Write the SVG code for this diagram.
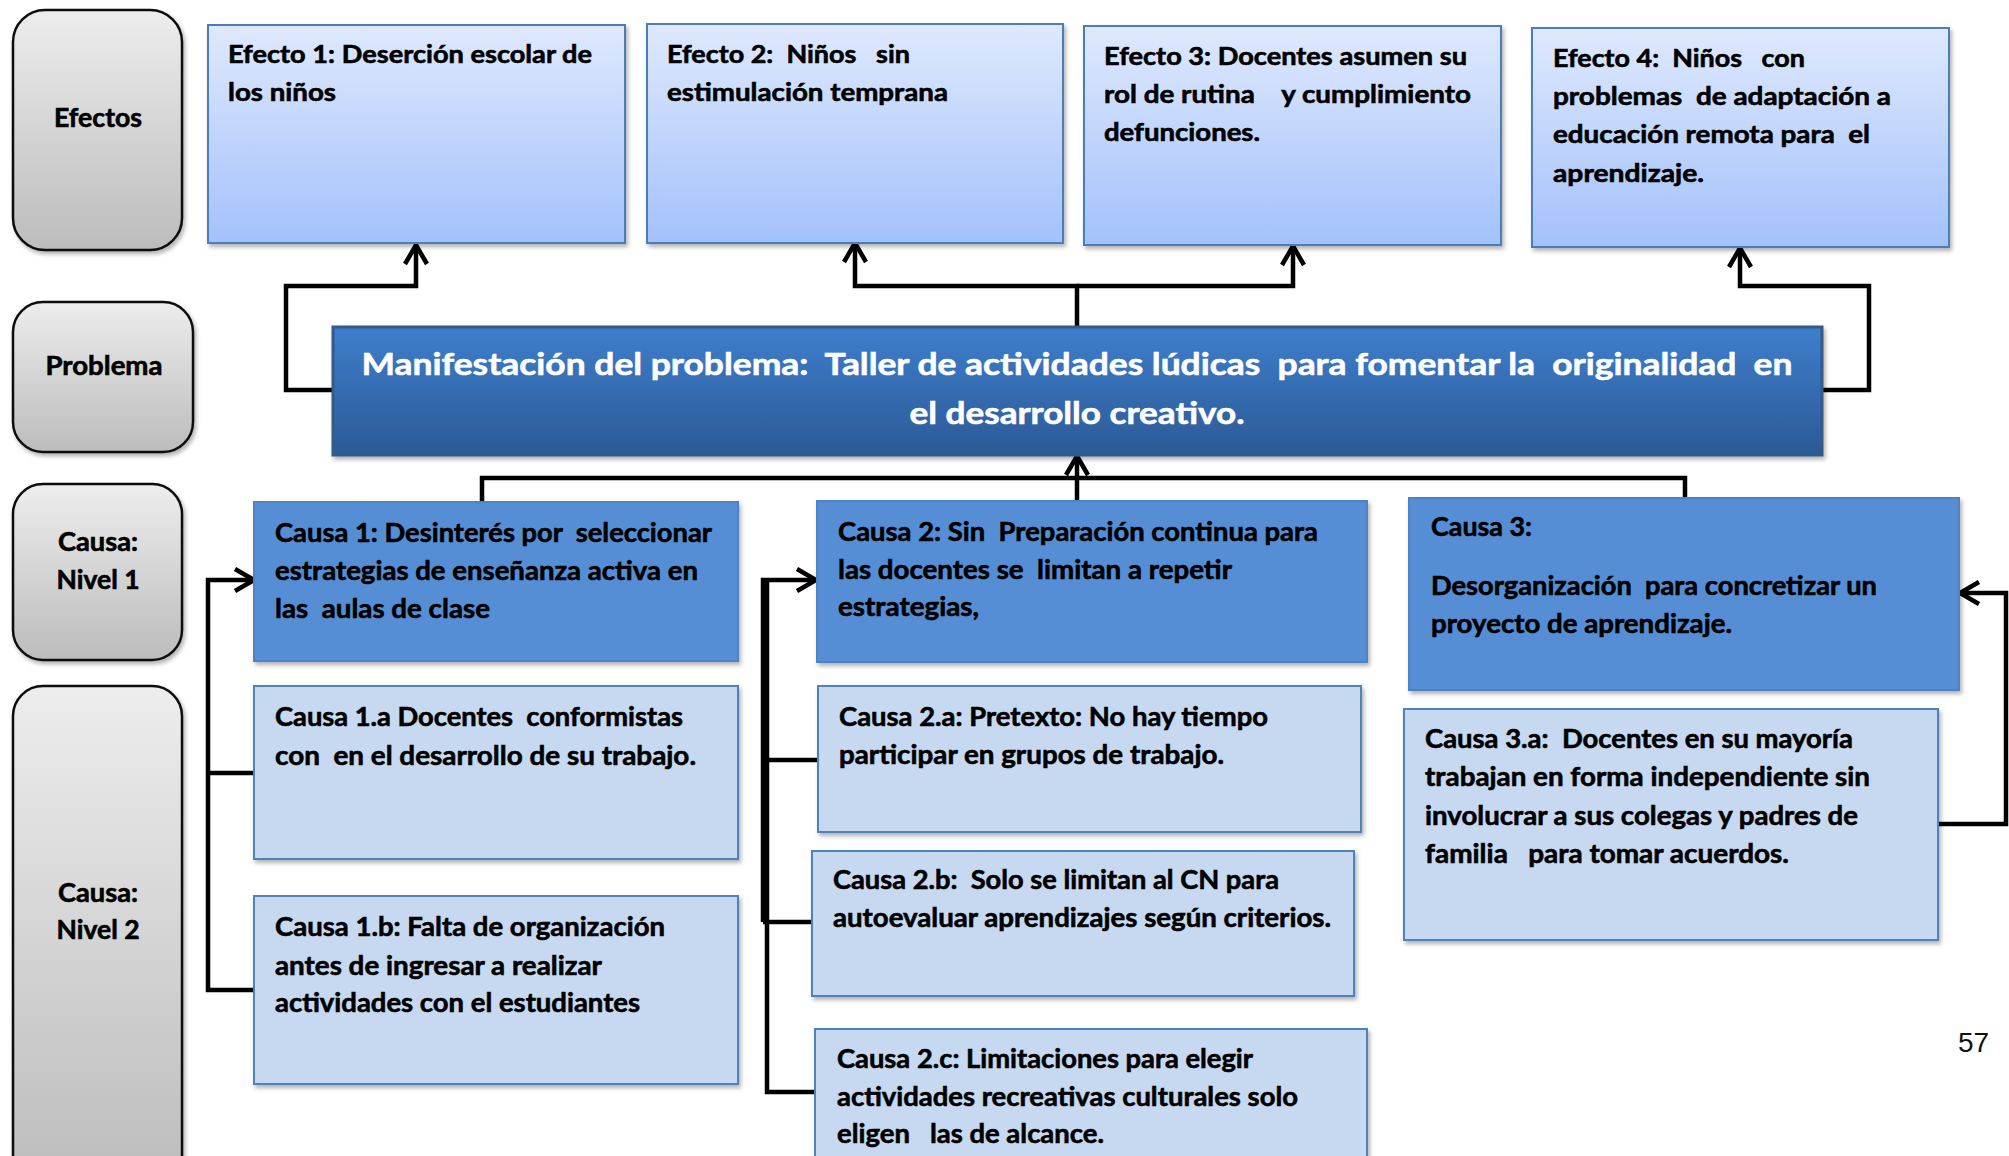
<svg xmlns="http://www.w3.org/2000/svg" width="2009" height="1156" viewBox="0 0 2009 1156">
<style>
text{font-family:Lato,"Open Sans","Liberation Sans",sans-serif;font-weight:bold;fill:#000;stroke:#000;stroke-width:0.6;}
.eff{font-size:25px;}
.cau{font-size:27px;}
.lab{font-size:26px;text-anchor:middle;}
.prob{font-size:31px;fill:#fff;stroke:#fff;stroke-width:0.6;text-anchor:middle;}
.num{font-family:"Liberation Sans",Arial,sans-serif;font-weight:normal;font-size:28px;fill:#111;stroke:none;}
.gray{fill:url(#grayGrad);stroke:#111;stroke-width:2.5;filter:url(#sh);}
.effbox{fill:url(#effGrad);stroke:#4a7ebb;stroke-width:2;filter:url(#sh);}
.probbox{fill:url(#probGrad);stroke:#355a88;stroke-width:3;filter:url(#sh);}
.c1{fill:#558ed5;stroke:#4f81c6;stroke-width:2;filter:url(#sh);}
.c2{fill:#c6d9f1;stroke:#4f81bd;stroke-width:2;filter:url(#sh);}
.con{fill:none;stroke:#000;stroke-width:4.5;stroke-linejoin:miter;}
</style>
<defs>
<linearGradient id="grayGrad" x1="0" y1="0" x2="0" y2="1"><stop offset="0" stop-color="#ededed"/><stop offset="1" stop-color="#bcbcbc"/></linearGradient>
<linearGradient id="effGrad" x1="0" y1="0" x2="0" y2="1"><stop offset="0" stop-color="#dfe9fd"/><stop offset="1" stop-color="#a3c1fb"/></linearGradient>
<linearGradient id="probGrad" x1="0" y1="0" x2="0" y2="1"><stop offset="0" stop-color="#3e7ecc"/><stop offset="1" stop-color="#2c5a96"/></linearGradient>
<filter id="sh" x="-5%" y="-5%" width="115%" height="120%"><feDropShadow dx="2" dy="3" stdDeviation="2" flood-color="#000" flood-opacity="0.3"/></filter>
<marker id="arr" markerUnits="userSpaceOnUse" markerWidth="40" markerHeight="40" viewBox="-30 -20 40 40" refX="-2" refY="0" orient="auto">
<path d="M-20,-11 L-1,0 L-20,11" fill="none" stroke="#000" stroke-width="4.5" stroke-linejoin="miter"/>
</marker>
</defs>
<rect width="2009" height="1156" fill="#fff"/>

<g id="label-efectos"><rect class="gray" x="13" y="10" width="169" height="240" rx="32"/><text class="lab" x="98" y="127" textLength="88" lengthAdjust="spacingAndGlyphs">Efectos</text></g>
<g id="label-problema"><rect class="gray" x="13" y="302" width="180" height="150" rx="30"/><text class="lab" x="104" y="375" textLength="117" lengthAdjust="spacingAndGlyphs">Problema</text></g>
<g id="label-nivel1"><rect class="gray" x="13" y="484" width="169" height="176" rx="30"/><text class="lab" x="98" y="551" textLength="80" lengthAdjust="spacingAndGlyphs">Causa:</text><text class="lab" x="98" y="589" textLength="83" lengthAdjust="spacingAndGlyphs">Nivel 1</text></g>
<g id="label-nivel2"><rect class="gray" x="13" y="686" width="169" height="500" rx="30"/><text class="lab" x="98" y="902" textLength="80" lengthAdjust="spacingAndGlyphs">Causa:</text><text class="lab" x="98" y="939" textLength="83" lengthAdjust="spacingAndGlyphs">Nivel 2</text></g>

<g id="connectors">
<path class="con" d="M333,390 H286 V286 H416 V246" marker-end="url(#arr)"/>
<path class="con" d="M1077,326 V286 H855 V244" marker-end="url(#arr)"/>
<path class="con" d="M1077,286 H1293 V247" marker-end="url(#arr)"/>
<path class="con" d="M1822,390 H1869 V286 H1740 V249" marker-end="url(#arr)"/>
<path class="con" d="M482,502 V478 H1685 V498"/>
<path class="con" d="M1077,501 V457" marker-end="url(#arr)"/>
<path class="con" d="M254,990 H208 V580 H253" marker-end="url(#arr)"/>
<path class="con" d="M208,773 H254"/>
<path class="con" d="M817,1092 H767 V580"/>
<path class="con" d="M763,922 V580 H815" marker-end="url(#arr)"/>
<path class="con" d="M763,760 H818"/>
<path class="con" d="M763,922 H812"/>
<path class="con" d="M1939,824 H2006 V593 H1961" marker-end="url(#arr)"/>
</g>

<g id="efecto1"><rect class="effbox" x="208" y="25" width="417" height="218"/>
<text class="eff" xml:space="preserve" x="228" y="63" textLength="364" lengthAdjust="spacingAndGlyphs">Efecto 1: Deserción escolar de</text>
<text class="eff" xml:space="preserve" x="228" y="101" textLength="108" lengthAdjust="spacingAndGlyphs">los niños</text></g>
<g id="efecto2"><rect class="effbox" x="647" y="24" width="416" height="219"/>
<text class="eff" xml:space="preserve" x="667" y="63" textLength="243" lengthAdjust="spacingAndGlyphs">Efecto 2:  Niños   sin</text>
<text class="eff" xml:space="preserve" x="667" y="101" textLength="281" lengthAdjust="spacingAndGlyphs">estimulación temprana</text></g>
<g id="efecto3"><rect class="effbox" x="1084" y="26" width="417" height="219"/>
<text class="eff" xml:space="preserve" x="1104" y="65" textLength="363" lengthAdjust="spacingAndGlyphs">Efecto 3: Docentes asumen su</text>
<text class="eff" xml:space="preserve" x="1104" y="103" textLength="367" lengthAdjust="spacingAndGlyphs">rol de rutina    y cumplimiento</text>
<text class="eff" xml:space="preserve" x="1104" y="141" textLength="156" lengthAdjust="spacingAndGlyphs">defunciones.</text></g>
<g id="efecto4"><rect class="effbox" x="1532" y="28" width="417" height="219"/>
<text class="eff" xml:space="preserve" x="1553" y="67" textLength="252" lengthAdjust="spacingAndGlyphs">Efecto 4:  Niños   con</text>
<text class="eff" xml:space="preserve" x="1553" y="105" textLength="338" lengthAdjust="spacingAndGlyphs">problemas  de adaptación a</text>
<text class="eff" xml:space="preserve" x="1553" y="143" textLength="317" lengthAdjust="spacingAndGlyphs">educación remota para  el</text>
<text class="eff" xml:space="preserve" x="1553" y="182" textLength="151" lengthAdjust="spacingAndGlyphs">aprendizaje.</text></g>

<g id="problema"><rect class="probbox" x="333" y="327" width="1489" height="128"/>
<text class="prob" xml:space="preserve" x="1077" y="375" textLength="1431" lengthAdjust="spacingAndGlyphs">Manifestación del problema:  Taller de actividades lúdicas  para fomentar la  originalidad  en</text>
<text class="prob" xml:space="preserve" x="1077" y="424" textLength="335" lengthAdjust="spacingAndGlyphs">el desarrollo creativo.</text></g>

<g id="causa1"><rect class="c1" x="254" y="502" width="484" height="159"/>
<text class="cau" xml:space="preserve" x="275" y="542" textLength="437" lengthAdjust="spacingAndGlyphs">Causa 1: Desinterés por  seleccionar</text>
<text class="cau" xml:space="preserve" x="275" y="580" textLength="423" lengthAdjust="spacingAndGlyphs">estrategias de enseñanza activa en</text>
<text class="cau" xml:space="preserve" x="275" y="618" textLength="215" lengthAdjust="spacingAndGlyphs">las  aulas de clase</text></g>
<g id="causa1a"><rect class="c2" x="254" y="686" width="484" height="173"/>
<text class="cau" xml:space="preserve" x="275" y="726" textLength="408" lengthAdjust="spacingAndGlyphs">Causa 1.a Docentes  conformistas</text>
<text class="cau" xml:space="preserve" x="275" y="765" textLength="421" lengthAdjust="spacingAndGlyphs">con  en el desarrollo de su trabajo.</text></g>
<g id="causa1b"><rect class="c2" x="254" y="896" width="484" height="188"/>
<text class="cau" xml:space="preserve" x="275" y="936" textLength="390" lengthAdjust="spacingAndGlyphs">Causa 1.b: Falta de organización</text>
<text class="cau" xml:space="preserve" x="275" y="975" textLength="327" lengthAdjust="spacingAndGlyphs">antes de ingresar a realizar</text>
<text class="cau" xml:space="preserve" x="275" y="1012" textLength="365" lengthAdjust="spacingAndGlyphs">actividades con el estudiantes</text></g>

<g id="causa2"><rect class="c1" x="817" y="501" width="550" height="161"/>
<text class="cau" xml:space="preserve" x="838" y="541" textLength="480" lengthAdjust="spacingAndGlyphs">Causa 2: Sin  Preparación continua para</text>
<text class="cau" xml:space="preserve" x="838" y="579" textLength="394" lengthAdjust="spacingAndGlyphs">las docentes se  limitan a repetir</text>
<text class="cau" xml:space="preserve" x="838" y="616" textLength="141" lengthAdjust="spacingAndGlyphs">estrategias,</text></g>
<g id="causa2a"><rect class="c2" x="818" y="686" width="543" height="146"/>
<text class="cau" xml:space="preserve" x="839" y="726" textLength="429" lengthAdjust="spacingAndGlyphs">Causa 2.a: Pretexto: No hay tiempo</text>
<text class="cau" xml:space="preserve" x="839" y="764" textLength="385" lengthAdjust="spacingAndGlyphs">participar en grupos de trabajo.</text></g>
<g id="causa2b"><rect class="c2" x="812" y="851" width="542" height="145"/>
<text class="cau" xml:space="preserve" x="833" y="889" textLength="446" lengthAdjust="spacingAndGlyphs">Causa 2.b:  Solo se limitan al CN para</text>
<text class="cau" xml:space="preserve" x="833" y="927" textLength="498" lengthAdjust="spacingAndGlyphs">autoevaluar aprendizajes según criterios.</text></g>
<g id="causa2c"><rect class="c2" x="815" y="1029" width="552" height="160"/>
<text class="cau" xml:space="preserve" x="837" y="1068" textLength="416" lengthAdjust="spacingAndGlyphs">Causa 2.c: Limitaciones para elegir</text>
<text class="cau" xml:space="preserve" x="837" y="1106" textLength="461" lengthAdjust="spacingAndGlyphs">actividades recreativas culturales solo</text>
<text class="cau" xml:space="preserve" x="837" y="1143" textLength="267" lengthAdjust="spacingAndGlyphs">eligen   las de alcance.</text></g>

<g id="causa3"><rect class="c1" x="1409" y="498" width="550" height="192"/>
<text class="cau" xml:space="preserve" x="1431" y="536" textLength="101" lengthAdjust="spacingAndGlyphs">Causa 3:</text>
<text class="cau" xml:space="preserve" x="1431" y="595" textLength="446" lengthAdjust="spacingAndGlyphs">Desorganización  para concretizar un</text>
<text class="cau" xml:space="preserve" x="1431" y="633" textLength="301" lengthAdjust="spacingAndGlyphs">proyecto de aprendizaje.</text></g>
<g id="causa3a"><rect class="c2" x="1404" y="709" width="534" height="231"/>
<text class="cau" xml:space="preserve" x="1425" y="748" textLength="428" lengthAdjust="spacingAndGlyphs">Causa 3.a:  Docentes en su mayoría</text>
<text class="cau" xml:space="preserve" x="1425" y="786" textLength="445" lengthAdjust="spacingAndGlyphs">trabajan en forma independiente sin</text>
<text class="cau" xml:space="preserve" x="1425" y="825" textLength="433" lengthAdjust="spacingAndGlyphs">involucrar a sus colegas y padres de</text>
<text class="cau" xml:space="preserve" x="1425" y="863" textLength="364" lengthAdjust="spacingAndGlyphs">familia   para tomar acuerdos.</text></g>

<text class="num" x="1958" y="1052">57</text>
</svg>
